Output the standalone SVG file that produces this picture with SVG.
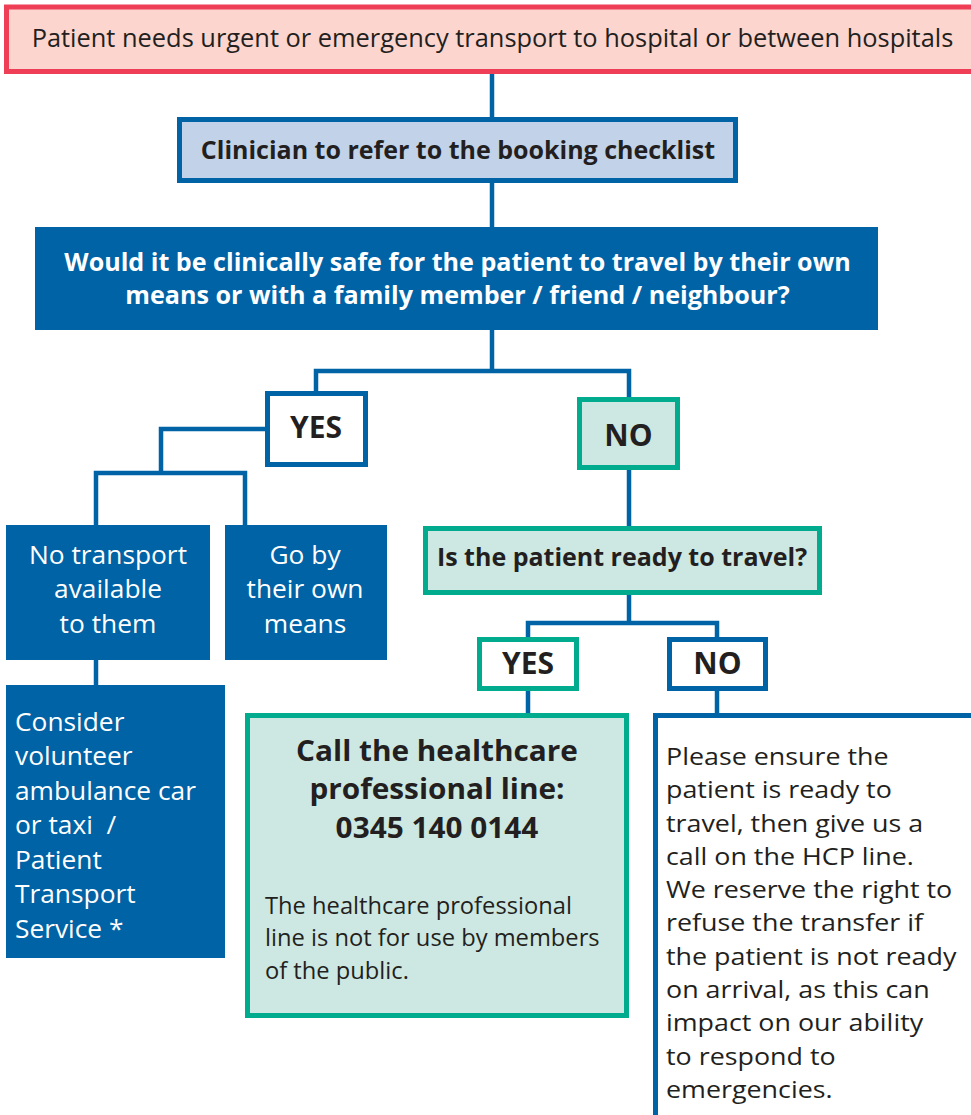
<svg xmlns="http://www.w3.org/2000/svg" width="971" height="1115" viewBox="0 0 971 1115">
<style>
text{font-family:"Open Sans","Noto Sans","Liberation Sans",sans-serif;fill:#231f20}
.b{font-weight:bold}
.w{fill:#ffffff}
.c{text-anchor:middle}
.blue{fill:#0063a6}
.lineb{fill:none;stroke:#0063a6;stroke-width:4.5}
.teal{fill:#cde8e2;stroke:#00ab8e;stroke-width:5}
.wb{fill:#ffffff;stroke:#0063a6;stroke-width:5}
.wt{fill:#ffffff;stroke:#00ab8e;stroke-width:5}
</style>
<rect width="971" height="1115" fill="#ffffff"/>
<g id="connectors" class="lineb">
<path d="M492 74V117"/>
<path d="M492 183V227"/>
<path d="M492 330V371"/>
<path d="M316 393V371H629V397"/>
<path d="M266 429H161V473"/>
<path d="M96 525V473H245V525"/>
<path d="M96 660V685"/>
<path d="M629 470V526"/>
<path d="M629 595V623"/>
<path d="M528 637V623H717V637"/>
<path d="M528 690V713"/>
<path d="M717 690V713"/>
</g>
<g id="n-start">
<rect x="6.5" y="7" width="980" height="64.5" fill="#fbd5ce" stroke="#ef3f57" stroke-width="5"/>
<text x="492.5" y="47" class="c" font-size="25.4">Patient needs urgent or emergency transport to hospital or between hospitals</text>
</g>
<g id="n-checklist">
<rect x="179.5" y="119.5" width="556" height="61" fill="#c2d3e9" stroke="#0063a6" stroke-width="5"/>
<text x="458" y="158.5" class="b c" font-size="25">Clinician to refer to the booking checklist</text>
</g>
<g id="n-safe">
<rect x="35" y="227" width="843" height="103" class="blue"/>
<g transform="matrix(1.03 0 0 1 -13.7 0)">
<text x="457.5" y="271" class="b c w" font-size="24.4">Would it be clinically safe for the patient to travel by their own</text>
<text x="457.5" y="304.5" class="b c w" font-size="24.4">means or with a family member / friend / neighbour?</text>
</g>
</g>
<g id="n-yes1">
<rect x="267.5" y="393.5" width="98" height="71" class="wb"/>
<text x="316" y="438" class="b c" font-size="30">YES</text>
</g>
<g id="n-notransport">
<rect x="6" y="525" width="204" height="135" class="blue"/>
<text class="c w" font-size="25.2" transform="matrix(1.045 0 0 1 -4.86 0)"><tspan x="108" y="564">No transport</tspan><tspan x="108" y="598">available</tspan><tspan x="108" y="633">to them</tspan></text>
</g>
<g id="n-ownmeans">
<rect x="225" y="525" width="162" height="135" class="blue"/>
<text class="c w" font-size="25.2" transform="matrix(1.045 0 0 1 -13.7 0)"><tspan x="305" y="564">Go by</tspan><tspan x="305" y="598">their own</tspan><tspan x="305" y="633">means</tspan></text>
</g>
<g id="n-consider">
<rect x="6" y="685" width="219" height="273" class="blue"/>
<text class="w" font-size="25.2" transform="matrix(1.045 0 0 1 -0.68 0)"><tspan x="15" y="731">Consider</tspan><tspan x="15" y="765.5">volunteer</tspan><tspan x="15" y="800">ambulance car</tspan><tspan x="15" y="834.5">or taxi&#160; /</tspan><tspan x="15" y="869">Patient</tspan><tspan x="15" y="903.5">Transport</tspan><tspan x="15" y="938">Service *</tspan></text>
</g>
<g id="n-no1">
<rect x="579.5" y="399.5" width="98" height="68" class="teal"/>
<text x="628.5" y="446" class="b c" font-size="30">NO</text>
</g>
<g id="n-ready">
<rect x="425.5" y="528.5" width="394" height="64" class="teal"/>
<text x="622" y="566" class="b c" font-size="25">Is the patient ready to travel?</text>
</g>
<g id="n-yes2">
<rect x="479.5" y="639.5" width="97" height="49" class="wt"/>
<text x="528" y="674" class="b c" font-size="30">YES</text>
</g>
<g id="n-no2">
<rect x="669.5" y="639.5" width="96" height="49" class="wb"/>
<text x="717.5" y="674" class="b c" font-size="30">NO</text>
</g>
<g id="n-call">
<rect x="247.5" y="715.5" width="379" height="300" class="teal"/>
<text class="b c" font-size="28" transform="matrix(1.064 0 0 1 -27.97 0)"><tspan x="437" y="761">Call the healthcare</tspan><tspan x="437" y="799">professional line:</tspan><tspan x="437" y="838">0345 140 0144</tspan></text>
<text font-size="23.4" transform="matrix(1.013 0 0 1 -3.45 0)"><tspan x="265" y="914">The healthcare professional</tspan><tspan x="265" y="946.5">line is not for use by members</tspan><tspan x="265" y="979">of the public.</tspan></text>
</g>
<g id="n-ensure">
<rect x="655.5" y="715.5" width="330" height="420" class="wb"/>
<text font-size="24.2" transform="matrix(1.11 0 0 1 -73.26 0)"><tspan x="666" y="765">Please ensure the</tspan><tspan x="666" y="798.3">patient is ready to</tspan><tspan x="666" y="831.6">travel, then give us a</tspan><tspan x="666" y="864.9">call on the HCP line.</tspan><tspan x="666" y="898.2">We reserve the right to</tspan><tspan x="666" y="931.5">refuse the transfer if</tspan><tspan x="666" y="964.8">the patient is not ready</tspan><tspan x="666" y="998.1">on arrival, as this can</tspan><tspan x="666" y="1031.4">impact on our ability</tspan><tspan x="666" y="1064.7">to respond to</tspan><tspan x="666" y="1098">emergencies.</tspan></text>
</g>
</svg>
